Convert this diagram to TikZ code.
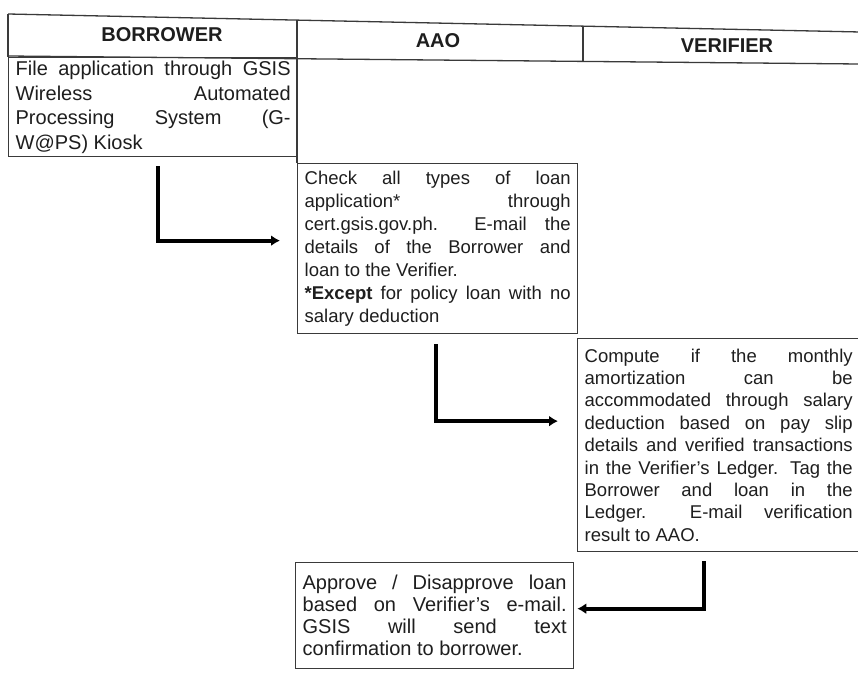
\documentclass[tikz,border=0pt]{standalone}
\usepackage{fontspec}
\setmainfont{Liberation Sans}
\usetikzlibrary{arrows.meta}
\definecolor{ink}{HTML}{1E1E1E}
\definecolor{rule}{HTML}{3A3A3A}
\begin{document}
\begin{tikzpicture}[x=1pt,y=-1pt,
  tbl/.style={draw=rule, line width=1.3pt},
  hdr/.style={font=\fontsize{20}{24}\selectfont\bfseries, text=ink, inner sep=0pt},
  stepbox/.style={draw=rule, line width=1.3pt, anchor=north west, align=justify,
    text=ink, inner xsep=7pt, inner ysep=3pt,
    execute at begin node={\hyphenpenalty=10000\exhyphenpenalty=10000}},
  flow/.style={line width=4pt, draw=black, -{Latex[length=9pt,width=11pt]}}
]
\useasboundingbox[fill=white] (0,0) rectangle (858,672);

% header table
\draw[tbl] (8,14) -- (870,32.2);
\draw[tbl] (8,56) -- (870,64.1);
\draw[tbl] (8,14) -- (8,57);
\draw[tbl] (297,20.1) -- (297,163);
\draw[tbl] (583,26.2) -- (583,62.2);
\node[hdr] (hb) at (162,35) {BORROWER};
\node[hdr] (ha) at (438,41) {AAO};
\node[hdr] (hv) at (727,46) {VERIFIER};

% steps
\node[stepbox, font=\fontsize{20}{24.5}\selectfont, text width=275pt, minimum height=99pt] (bor) at (8,57)
  {File application through GSIS\linebreak Wireless Automated\linebreak Processing System (G-\linebreak W@PS) Kiosk};

\node[stepbox, font=\fontsize{18.5}{23}\selectfont, text width=266pt, minimum height=170pt] (aao) at (297,163)
  {Check all types of loan\linebreak application* through\linebreak cert.gsis.gov.ph.\ \ E-mail the\linebreak details of the Borrower and\linebreak loan to the Verifier.\\ \textbf{*Except} for policy loan with no\linebreak salary deduction};

\node[stepbox, font=\fontsize{18.5}{22.4}\selectfont, text width=268pt, minimum height=213pt] (ver) at (577,338)
  {Compute if the monthly\linebreak amortization can be\linebreak accommodated through salary\linebreak deduction based on pay slip\linebreak details and verified transactions\linebreak in the Verifier's Ledger. Tag the\linebreak Borrower and loan in the\linebreak Ledger.\ \ E-mail verification\linebreak result to AAO.};

\node[stepbox, font=\fontsize{20}{22}\selectfont, text width=264pt, minimum height=106pt] (fin) at (295,562)
  {Approve / Disapprove loan\linebreak based on Verifier's e-mail.\linebreak GSIS will send text\linebreak confirmation to borrower.};

% connectors
\draw[flow] ([xshift=150pt,yshift=-9pt]bor.south west) |- ([xshift=-17pt,yshift=8pt]aao.west);
\draw[flow] ([xshift=139pt,yshift=-10pt]aao.south west) |- ([xshift=-19pt,yshift=24pt]ver.west);
\draw[flow] ([xshift=127pt,yshift=-9pt]ver.south west) |- ([xshift=3pt,yshift=7pt]fin.east);
\end{tikzpicture}
\end{document}
